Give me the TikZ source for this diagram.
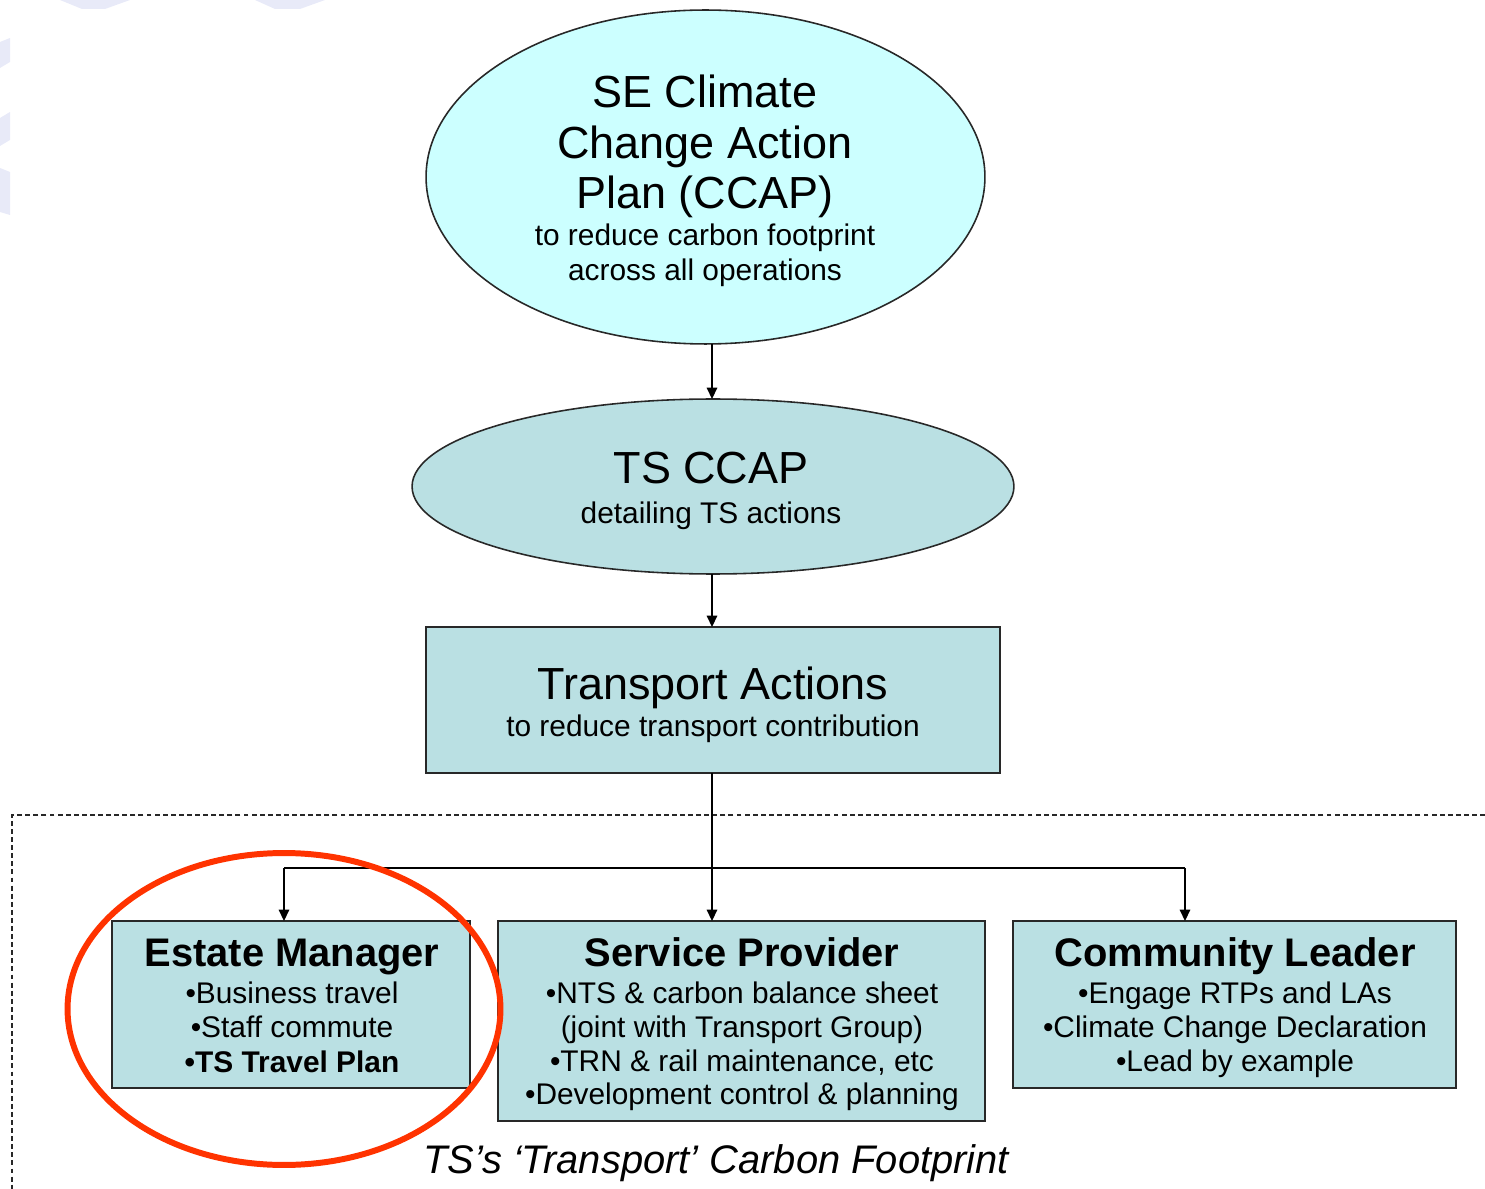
\documentclass[tikz,border=0pt]{standalone}
\usepackage{fontspec}
\setmainfont{Liberation Sans}
\usetikzlibrary{arrows.meta,shapes.geometric}
\definecolor{topfill}{RGB}{204,255,255}
\definecolor{boxfill}{RGB}{186,224,227}
\definecolor{edgecol}{RGB}{40,40,40}
\definecolor{redring}{RGB}{255,51,0}
\definecolor{faint}{RGB}{232,234,248}
\begin{document}
\begin{tikzpicture}[x=0.02cm,y=-0.02cm,
  shapebox/.style={draw=edgecol,line width=0.9pt,fill=boxfill,inner sep=0pt,outer sep=0pt},
  ellbox/.style={shapebox,ellipse},
  rectbox/.style={shapebox,rectangle},
  bigtxt/.style={anchor=base,inner sep=0pt,font=\fontsize{25.6}{30}\selectfont},
  smalltxt/.style={anchor=base,inner sep=0pt,font=\fontsize{17}{20}\selectfont},
  titletxt/.style={anchor=base,inner sep=0pt,font=\fontsize{22.7}{26}\selectfont\bfseries},
  foottxt/.style={anchor=base,inner sep=0pt,font=\fontsize{22.7}{26}\selectfont\itshape},
  conn/.style={draw=black,line width=0.8pt,-{Triangle[length=6.5pt,width=6pt]}},
  plainline/.style={draw=black,line width=0.8pt},
  dashline/.style={draw=edgecol,line width=0.7pt,dash pattern=on 2.8pt off 1.8pt},
  ring/.style={draw=redring,line width=3.4pt,ellipse,inner sep=0pt,outer sep=0pt}
]
\useasboundingbox (0,0) rectangle (1485,1189);
% faint background swooshes
\fill[faint] (60,0) -- (130,0) -- (105,9) -- (82,9) -- cycle;
\fill[faint] (255,0) -- (325,0) -- (300,9) -- (275,9) -- cycle;
\fill[faint] (0,42) -- (10,38) -- (10,62) -- (0,68) -- cycle;
\fill[faint] (0,118) -- (10,112) -- (10,140) -- (0,146) -- cycle;
\fill[faint] (0,168) -- (10,172) -- (10,215) -- (0,212) -- cycle;

% shapes
\node[ellbox,fill=topfill,minimum width=11.18cm,minimum height=6.68cm] (se) at (705.5,177) {};
\node[ellbox,minimum width=12.04cm,minimum height=3.5cm] (ts) at (713,486.5) {};
\node[rectbox,minimum width=11.48cm,minimum height=2.92cm] (ta) at (713,700) {};
\node[rectbox,minimum width=7.16cm,minimum height=3.34cm] (em) at (291,1004.5) {};
\node[rectbox,minimum width=9.74cm,minimum height=4cm] (sp) at (741.5,1021) {};
\node[rectbox,minimum width=8.86cm,minimum height=3.34cm] (cl) at (1234.5,1004.5) {};

% texts
\node[bigtxt] (se1) at (705,108) {SE Climate};
\node[bigtxt] (se2) at (705,159) {Change Action};
\node[bigtxt] (se3) at (705,209) {Plan (CCAP)};
\node[smalltxt] (se4) at (705,246) {to reduce carbon footprint};
\node[smalltxt] (se5) at (705,281) {across all operations};

\node[bigtxt] (ts1) at (711,484) {TS CCAP};
\node[smalltxt] (ts2) at (711,523) {detailing TS actions};

\node[bigtxt] (ta1) at (713,699) {Transport Actions};
\node[smalltxt] (ta2) at (713,736) {to reduce transport contribution};

\node[titletxt] (em1) at (292,966) {Estate Manager};
\node[smalltxt] (em2) at (292,1003) {•Business travel};
\node[smalltxt] (em3) at (292,1037) {•Staff commute};
\node[smalltxt,font=\fontsize{17}{20}\selectfont\bfseries] (em4) at (292,1072) {•TS Travel Plan};

\node[titletxt] (sp1) at (742,966) {Service Provider};
\node[smalltxt] (sp2) at (742,1003) {•NTS \& carbon balance sheet};
\node[smalltxt] (sp3) at (742,1037) {(joint with Transport Group)};
\node[smalltxt] (sp4) at (742,1071) {•TRN \& rail maintenance, etc};
\node[smalltxt] (sp5) at (742,1104) {•Development control \& planning};

\node[titletxt] (cl1) at (1235,966) {Community Leader};
\node[smalltxt] (cl2) at (1235,1003) {•Engage RTPs and LAs};
\node[smalltxt] (cl3) at (1235,1037) {•Climate Change Declaration};
\node[smalltxt] (cl4) at (1235,1071) {•Lead by example};

\node[foottxt] (ft) at (716,1173) {TS’s ‘Transport’ Carbon Footprint};

% dashed frame
\coordinate (dR) at (1485,815);
\coordinate (dC) at (12,815);
\coordinate (dB) at (12,1189);
\draw[dashline] (dR) -- (dC) -- (dB);

% connectors
\coordinate (axis) at (712,500);
\draw[conn] (axis |- se.south) -- (axis |- ts.north);
\draw[conn] (axis |- ts.south) -- (axis |- ta.north);
\draw[conn] (axis |- ta.south) -- (axis |- sp.north);
\coordinate (jl) at (284,868);
\coordinate (jr) at (1185,868);
\draw[plainline] (jl) -- (jr);
\draw[conn] (jl) -- (jl |- em.north);
\draw[conn] (jr) -- (jr |- cl.north);

% red highlight ring
\node[ring,minimum width=8.66cm,minimum height=6.24cm] (rr) at (284,1009) {};
\end{tikzpicture}
\end{document}
